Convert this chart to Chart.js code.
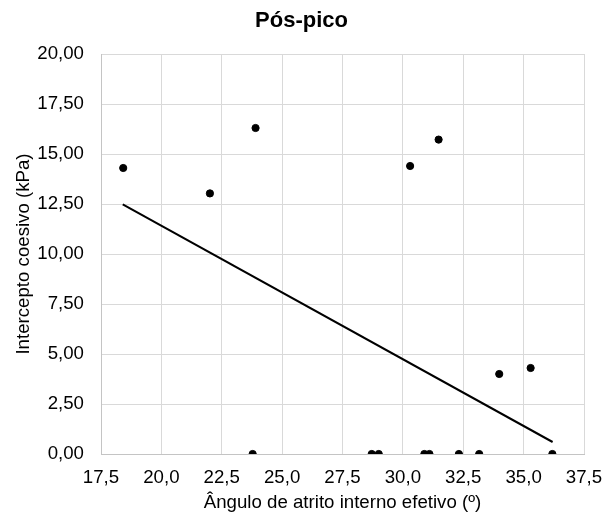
<!DOCTYPE html>
<html>
<head>
  <meta charset="UTF-8">
  <title>Pós-pico</title>
  <script src="https://cdn.jsdelivr.net/npm/chart.js"></script>
  <style>
    body {
      margin: 0;
      background: white;
    }
    canvas {
      display: block;
    }
  </style>
</head>
<body>
  <canvas id="posPicoChart" width="603" height="515"></canvas>

  <script>
    // ângulo de atrito (º) e intercepto coesivo (kPa) de cada ensaio
    const angulo = [18.42, 22.01, 23.9, 23.78, 28.71, 29.0, 30.3, 31.48, 30.89, 31.1, 32.32, 33.16, 33.99, 35.29, 36.19];
    const intercepto = [14.3, 13.03, 16.3, 0, 0, 0, 14.4, 15.72, 0, 0, 0, 0, 4.0, 4.3, 0];

    // linha de tendência (extremos)
    const tendenciaX = [18.4, 36.2];
    const tendenciaY = [12.48, 0.6];

    const pontos = angulo.map((x, i) => ({ x: x, y: intercepto[i] }));
    const tendencia = tendenciaX.map((x, i) => ({ x: x, y: tendenciaY[i] }));

    const fonte = "'Liberation Sans', Arial, sans-serif";
    const virgula = (v, casas) => Number(v).toFixed(casas).replace('.', ',');

    new Chart(document.getElementById("posPicoChart"), {
      type: 'scatter',
      data: {
        datasets: [{
          label: "Ensaios",
          data: pontos,
          backgroundColor: '#000',
          borderColor: '#000',
          pointRadius: 3.6,
          pointHoverRadius: 3.6
        }, {
          label: "Tendência",
          type: 'line',
          data: tendencia,
          borderColor: '#000',
          borderWidth: 2,
          pointRadius: 0,
          fill: false
        }]
      },
      options: {
        responsive: false,
        animation: false,
        layout: {
          padding: 0
        },
        plugins: {
          legend: { display: false },
          tooltip: { enabled: false },
          title: {
            display: true,
            text: 'Pós-pico',
            color: '#000',
            font: { family: fonte, size: 22, weight: 'bold' },
            padding: { top: 7.5, bottom: 20.1 }
          }
        },
        scales: {
          x: {
            type: 'linear',
            min: 17.5,
            max: 37.5,
            afterFit(scale) {
              // margem fixa à direita, sem depender da largura do último rótulo
              scale.height = 61;
              scale.paddingLeft = 0;
              scale.paddingRight = 19;
            },
            ticks: {
              stepSize: 2.5,
              padding: 12.5,
              color: '#000',
              font: { family: fonte, size: 18.67 },
              callback: v => virgula(v, 1)
            },
            grid: { color: '#d9d9d9', drawTicks: false },
            border: { color: '#c4c4c4' },
            title: {
              display: true,
              text: 'Ângulo de atrito interno efetivo (º)',
              color: '#000',
              font: { family: fonte, size: 18.67 },
              padding: { top: 0, bottom: 0.8 }
            }
          },
          y: {
            min: 0,
            max: 20,
            afterFit(scale) { scale.width = 101; },
            ticks: {
              stepSize: 2.5,
              padding: 17,
              color: '#000',
              font: { family: fonte, size: 18.67 },
              callback: v => virgula(v, 2)
            },
            grid: { color: '#d9d9d9', drawTicks: false },
            border: { color: '#c4c4c4' },
            title: {
              display: true,
              text: 'Intercepto coesivo (kPa)',
              color: '#000',
              font: { family: fonte, size: 18.67 },
              padding: { top: 13, bottom: 0 }
            }
          }
        }
      }
    });
  </script>
</body>
</html>
